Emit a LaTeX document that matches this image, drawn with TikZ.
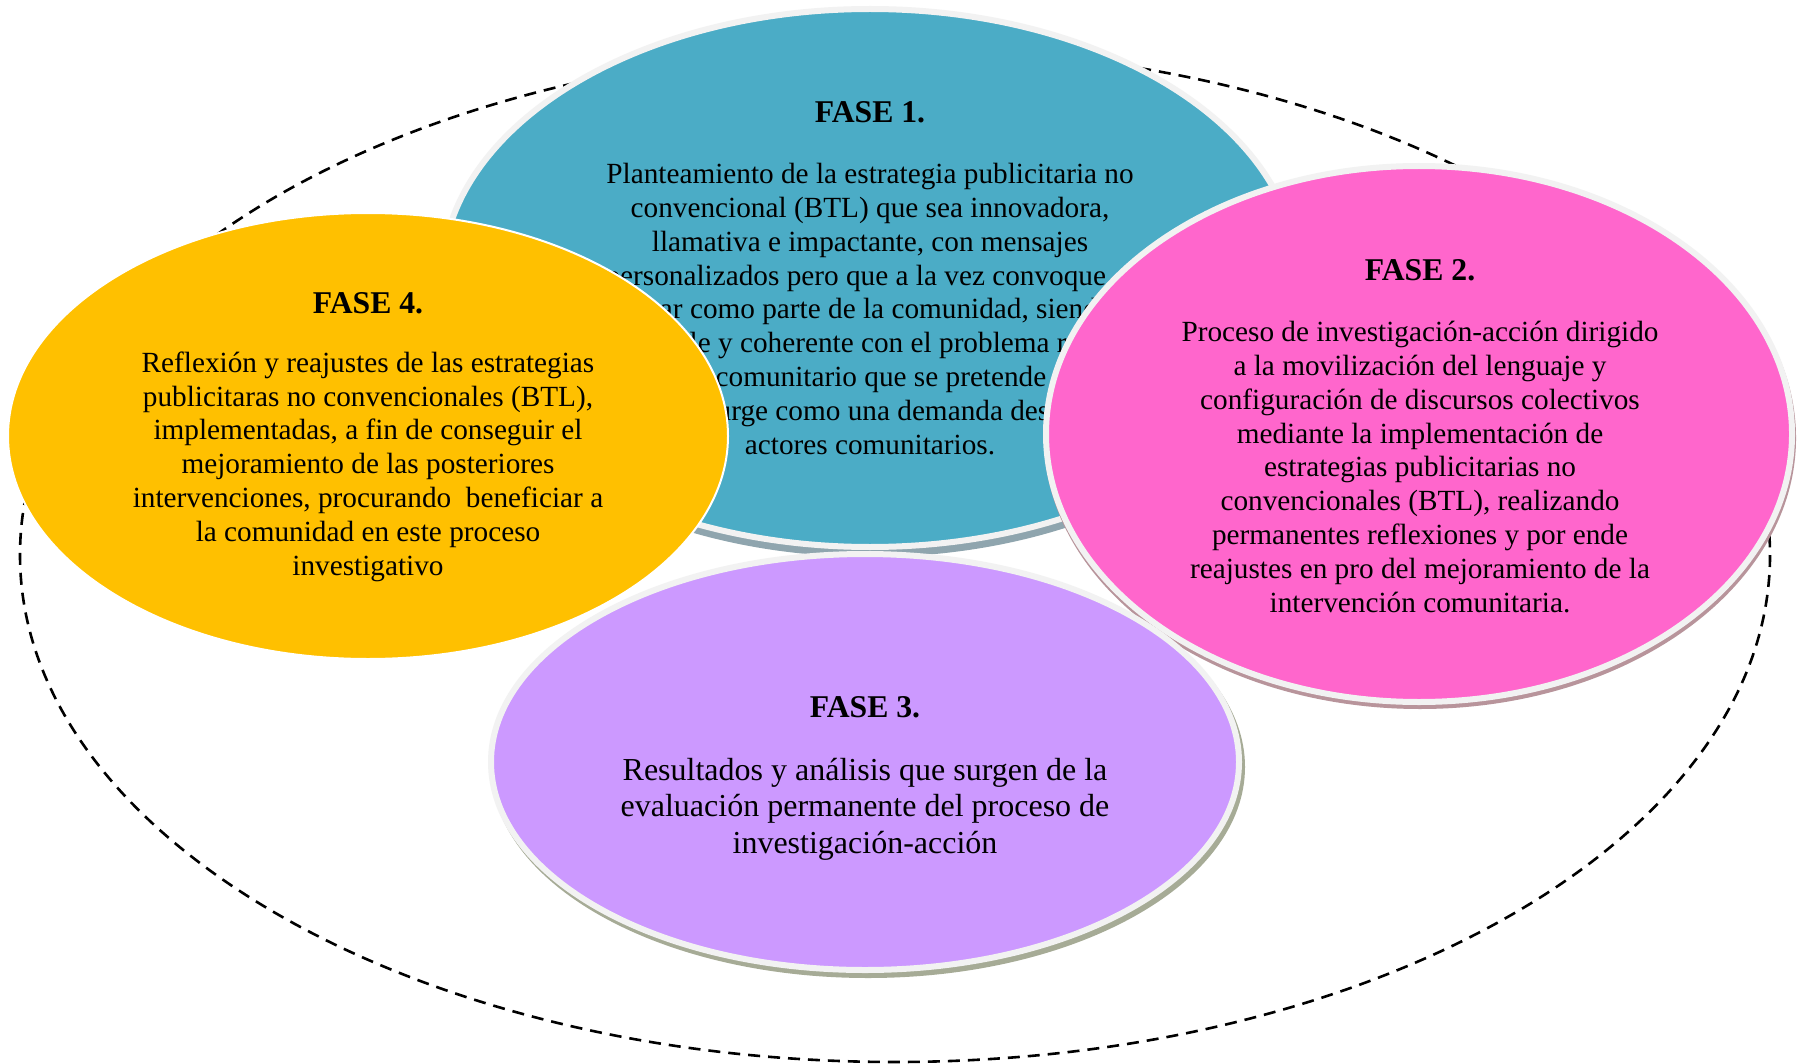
\documentclass[tikz,border=0pt]{standalone}
\usepackage{fontspec}
\setmainfont{Liberation Serif}
\definecolor{teal1}{HTML}{4BACC6}
\definecolor{pink1}{HTML}{FF66CC}
\definecolor{yell1}{HTML}{FFC000}
\definecolor{purp1}{HTML}{CC99FF}
\definecolor{rimgray}{HTML}{F2F2F2}
\definecolor{shteal}{HTML}{8FA5AE}
\definecolor{shpink}{HTML}{B8949B}
\definecolor{shpurp}{HTML}{A6AB96}
\begin{document}
\begin{tikzpicture}[x=0.5pt,y=-0.5pt,
  body/.style={align=center, font=\fontsize{14.63pt}{16.9pt}\selectfont, inner sep=0pt, anchor=base},
  bodybig/.style={align=center, font=\fontsize{16pt}{18.25pt}\selectfont, inner sep=0pt, anchor=base},
  ftitle/.style={font=\fontsize{15.85pt}{18pt}\selectfont\bfseries, inner sep=0pt, anchor=base},
  rim/.style={draw=rimgray, line width=3pt},
  cycle/.style={draw=black, line width=1.3pt, dash pattern=on 6pt off 4pt}
]
\useasboundingbox (0,0) rectangle (1808,1064);
\fill[white] (0,0) rectangle (1808,1064);

% dashed cycle
\draw[cycle] (895,555) ellipse [x radius=875, y radius=507];

% FASE 1 (teal)  -- body node placed at baseline of its last line
\fill[shteal] (871,285) ellipse [x radius=431, y radius=272];
\draw[rim, fill=teal1] (870,278) ellipse [x radius=428, y radius=269];
\node[ftitle] (t1) at (870,123) {FASE 1.};
\node[body] (b1) at (870,454) {Planteamiento de la estrategia publicitaria no\\
convencional (BTL) que sea innovadora,\\
llamativa e impactante, con mensajes\\
personalizados pero que a la vez convoque\hphantom{~al}\\
estar como parte de la comunidad, siendo\\
viable y coherente con el problema real\\
y comunitario que se pretende\\
que surge como una demanda desde\hphantom{,}\\
actores comunitarios.};

% FASE 2 (pink)
\fill[shpink] (1420,438) ellipse [x radius=376, y radius=271];
\draw[rim, fill=pink1] (1419,434) ellipse [x radius=373, y radius=268];
\node[ftitle] (t2) at (1420,280) {FASE 2.};
\node[body] (b2) at (1420,612) {Proceso de investigación-acción dirigido\\
a la movilización del lenguaje y\\
configuración de discursos colectivos\\
mediante la implementación de\\
estrategias publicitarias no\\
convencionales (BTL), realizando\\
permanentes reflexiones y por ende\\
reajustes en pro del mejoramiento de la\\
intervención comunitaria.};

% FASE 4 (yellow)
\draw[draw=white, line width=1pt, fill=yell1] (368,436) ellipse [x radius=360, y radius=223];
\node[ftitle] (t4) at (368,313) {FASE 4.};
\node[body] (b4) at (368,575) {Reflexión y reajustes de las estrategias\\
publicitaras no convencionales (BTL),\\
implementadas, a fin de conseguir el\\
mejoramiento de las posteriores\\
intervenciones, procurando\ \ beneficiar a\\
la comunidad en este proceso\\
investigativo};

% FASE 3 (purple)
\fill[shpurp] (868,767) ellipse [x radius=377, y radius=211];
\draw[rim, fill=purp1] (865,762) ellipse [x radius=374, y radius=208];
\node[ftitle] (t3) at (865,717) {FASE 3.};
\node[bodybig] (b3) at (865,853) {Resultados y análisis que surgen de la\\
evaluación permanente del proceso de\\
investigación-acción};
\end{tikzpicture}
\end{document}
